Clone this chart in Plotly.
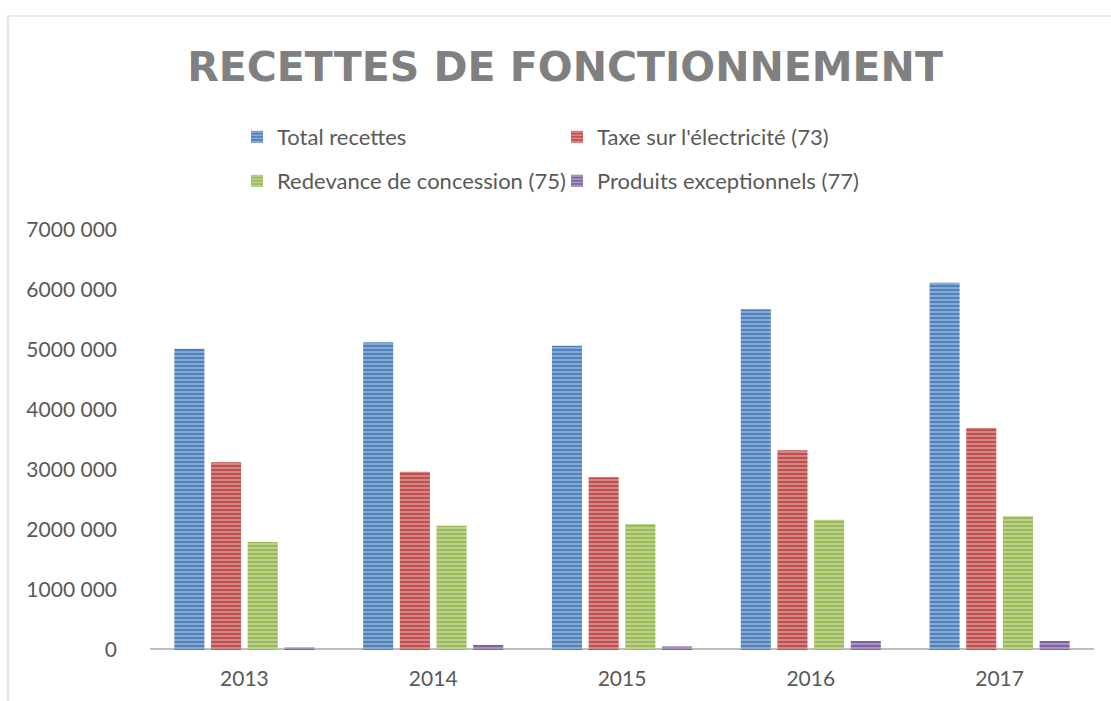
import plotly.graph_objects as go

years = ["2013", "2014", "2015", "2016", "2017"]
total_recettes = [5020000, 5130000, 5070000, 5680000, 6120000]
taxe_electricite = [3130000, 2970000, 2880000, 3330000, 3700000]
redevance_concession = [1800000, 2070000, 2100000, 2170000, 2230000]
produits_exceptionnels = [45000, 85000, 60000, 150000, 150000]

series_names = ["Total recettes", "Taxe sur l'électricité (73)",
                "Redevance de concession (75)", "Produits exceptionnels (77)"]
series_values = [total_recettes, taxe_electricite, redevance_concession, produits_exceptionnels]
series_colors = ["#4F81BD", "#C0504D", "#9BBB59", "#8064A2"]
series_legends = ["legend", "legend", "legend2", "legend2"]

y_tickvals = [0, 1000000, 2000000, 3000000, 4000000, 5000000, 6000000, 7000000]
y_ticktext = ["0", "1000 000", "2000 000", "3000 000", "4000 000", "5000 000", "6000 000", "7000 000"]

FONT = "Lato, 'Noto Sans', sans-serif"

fig = go.Figure()
for name, vals, col, lg in zip(series_names, series_values, series_colors, series_legends):
    fig.add_trace(go.Bar(
        x=years, y=vals, name=name, legend=lg,
        marker=dict(color=col, line=dict(width=0),
                    pattern=dict(shape="-", size=4, solidity=0.5,
                                 fgcolor="rgba(255,255,255,0.62)", fillmode="overlay")),
    ))

L, R, T, B = 150, 17, 230, 51
W, H = 1111, 701
pw, ph = W - L - R, H - T - B
Y0 = T + ph  # pixel row of the zero line


def py(p):
    return (Y0 - p) / ph


def px(p):
    return (p - L) / pw


legend_common = dict(orientation="h", xanchor="left", yanchor="middle",
                     entrywidth=275, entrywidthmode="pixels",
                     font=dict(family=FONT, size=22, color="#595959"),
                     bgcolor="rgba(0,0,0,0)", itemwidth=30)

fig.update_layout(
    width=W, height=H,
    margin=dict(l=L, r=R, t=T, b=B),
    paper_bgcolor="white", plot_bgcolor="white",
    barmode="group", bargap=0.223, bargroupgap=0.18,
    title=dict(text="<b>RECETTES DE FONCTIONNEMENT</b>", x=565 / W, xanchor="center",
               y=1 - 67 / H, yanchor="middle",
               font=dict(family="'DejaVu Sans', sans-serif", size=41, color="#808080")),
    legend=dict(x=px(237), y=py(137), **legend_common),
    legend2=dict(x=px(237), y=py(181), **legend_common),
    font=dict(family=FONT, color="#595959"),
    showlegend=True,
)

fig.update_xaxes(showgrid=False, showline=False, ticks="", automargin=False,
                 tickfont=dict(family=FONT, size=21, color="#595959"), ticklabelstandoff=14)
fig.update_yaxes(range=[0, 7000000], tickvals=y_tickvals, ticktext=y_ticktext, automargin=False,
                 showgrid=False, zeroline=False, showline=False, ticks="",
                 tickfont=dict(family=FONT, size=21, color="#595959"), ticklabelstandoff=32)

# baseline (drawn below the bars so small bars stay visible)
fig.add_shape(type="line", xref="paper", yref="y", x0=0, x1=1, y0=0, y1=0,
              line=dict(color="#BFBFBF", width=4), layer="below")
# chart border
fig.add_shape(type="rect", xref="paper", yref="paper",
              x0=px(8), x1=px(W + 10), y0=py(H + 10), y1=py(16),
              line=dict(color="#D9D9D9", width=1.2), layer="below")

fig.write_html("out.html", config={"displayModeBar": False},
               post_script="document.body.style.margin='0';document.body.style.overflow='hidden';")
